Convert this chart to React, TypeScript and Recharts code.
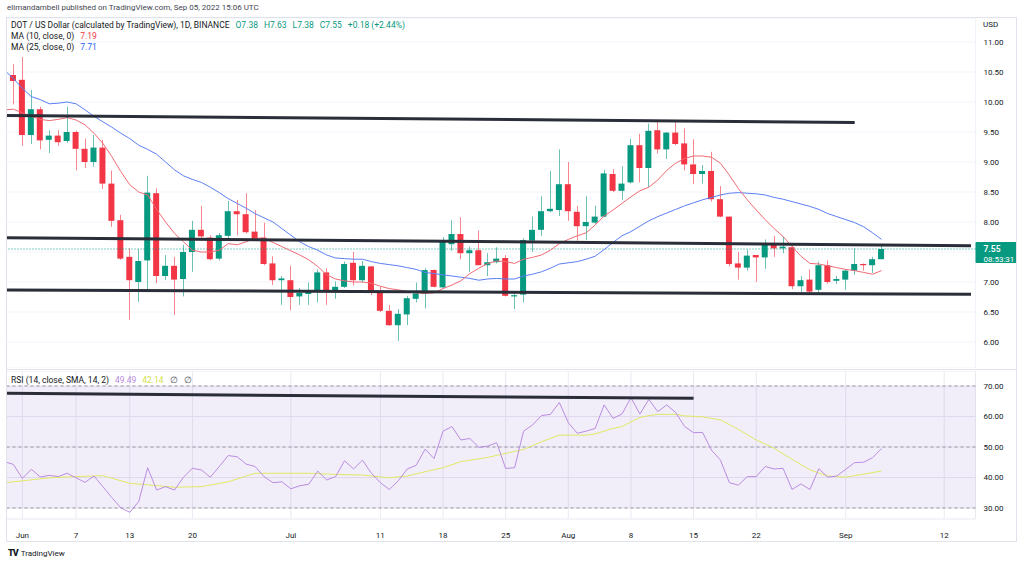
import React from "react";
import {
  ComposedChart,
  Bar,
  Line,
  XAxis,
  YAxis,
  CartesianGrid,
  ReferenceLine,
  ReferenceArea,
} from "recharts";

// ---------- categories ----------
const START_DAY = Date.UTC(2022, 4, 30); // May 30 2022
const DAY_COUNT = 109; // through Sep 15 (empty space on the right)
const dates: string[] = Array.from({ length: DAY_COUNT }, (_, i) =>
  new Date(START_DAY + i * 86400000).toISOString().slice(0, 10)
);

// ---------- OHLC (May 30 .. Sep 5) ----------
const opens = [
  9.98, 10.45, 10.37, 9.45, 9.88, 9.37, 9.44, 9.35, 9.5, 9.22,
  9.0, 9.24, 8.64, 8.03, 7.42, 7.0, 7.36, 8.48, 7.1, 7.27,
  7.05, 7.5, 7.87, 7.74, 7.39, 7.77, 8.18, 8.13, 7.84, 7.74,
  7.31, 7.03, 7.03, 6.76, 6.8, 6.84, 7.16, 6.84, 6.92, 7.32,
  7.03, 7.26, 6.84, 6.52, 6.28, 6.46, 6.72, 6.8, 7.2, 6.91,
  7.63, 7.8, 7.48, 7.53, 7.28, 7.33, 7.4, 6.76, 6.79, 7.69,
  7.87, 8.18, 8.2, 8.63, 8.17, 7.93, 7.99, 8.09, 8.8, 8.52,
  8.66, 9.28, 8.9, 9.53, 9.21, 9.49, 9.31, 8.96, 8.8, 8.85,
  8.38, 8.09, 7.31, 7.24, 7.45, 7.41, 7.65, 7.56, 7.58, 6.93,
  7.04, 6.87, 7.28, 7.02, 7.04, 7.19, 7.3, 7.28, 7.38,
];
const highs = [
  10.55, 10.63, 10.75, 10.2, 9.92, 9.53, 9.53, 9.92, 9.52, 9.39,
  9.45, 9.37, 8.86, 8.12, 7.56, 7.55, 8.77, 8.56, 7.45, 7.42,
  7.62, 8.02, 8.27, 7.78, 7.82, 8.35, 8.37, 8.48, 8.2, 7.99,
  7.43, 7.1, 7.27, 6.9, 6.99, 7.21, 7.23, 7.01, 7.34, 7.5,
  7.35, 7.27, 6.92, 6.62, 6.55, 6.77, 6.99, 7.23, 7.21, 7.75,
  8.03, 8.08, 7.59, 7.86, 7.48, 7.58, 7.45, 6.81, 7.73, 8.09,
  8.43, 8.85, 9.21, 9.0, 8.27, 8.43, 8.27, 8.87, 8.88, 8.93,
  9.39, 9.47, 9.64, 9.68, 9.5, 9.67, 9.56, 9.38, 8.95, 9.17,
  8.6, 8.09, 7.5, 7.54, 7.45, 7.71, 7.77, 7.76, 7.65, 7.1,
  7.21, 7.34, 7.36, 7.1, 7.21, 7.56, 7.31, 7.42, 7.63,
];
const lows = [
  9.95, 9.96, 9.27, 9.3, 9.21, 9.15, 9.27, 9.32, 8.86, 8.9,
  8.92, 8.55, 7.92, 7.37, 6.37, 6.67, 6.84, 6.98, 7.03, 6.45,
  6.76, 7.17, 7.69, 7.36, 7.36, 7.73, 7.78, 7.81, 7.7, 7.28,
  6.95, 6.62, 6.53, 6.62, 6.62, 6.66, 6.62, 6.72, 6.9, 6.94,
  6.99, 6.78, 6.5, 6.27, 6.02, 6.28, 6.66, 6.56, 6.91, 6.89,
  7.52, 7.38, 7.17, 7.28, 7.1, 7.31, 6.76, 6.55, 6.66, 7.5,
  7.77, 8.16, 8.1, 8.02, 7.69, 7.7, 7.97, 8.08, 8.5, 8.37,
  8.64, 8.66, 8.58, 9.14, 9.05, 9.28, 8.86, 8.63, 8.64, 8.34,
  8.08, 7.26, 7.04, 7.19, 7.0, 7.22, 7.42, 7.48, 6.88, 6.82,
  6.82, 6.82, 6.97, 6.97, 6.87, 7.12, 7.19, 7.15, 7.38,
];
const closes = [
  10.47, 10.35, 9.45, 9.88, 9.36, 9.44, 9.33, 9.5, 9.22, 9.0,
  9.24, 8.64, 8.02, 7.39, 7.03, 7.35, 8.49, 7.1, 7.27, 7.04,
  7.5, 7.87, 7.76, 7.38, 7.78, 8.18, 8.13, 7.83, 7.71, 7.3,
  7.03, 7.06, 6.75, 6.82, 6.84, 7.16, 6.84, 6.92, 7.3, 7.03,
  7.27, 6.84, 6.52, 6.28, 6.47, 6.73, 6.81, 7.2, 6.92, 7.67,
  7.8, 7.48, 7.53, 7.28, 7.33, 7.39, 6.77, 6.78, 7.7, 7.87,
  8.18, 8.22, 8.63, 8.18, 7.93, 8.0, 8.09, 8.81, 8.52, 8.64,
  9.28, 8.9, 9.52, 9.21, 9.49, 9.3, 8.96, 8.8, 8.85, 8.38,
  8.09, 7.3, 7.24, 7.44, 7.41, 7.65, 7.56, 7.59, 6.93, 7.03,
  6.84, 7.28, 7.0, 7.05, 7.19, 7.3, 7.28, 7.38, 7.55,
];

// ---------- moving averages ----------
const ma10 = [
  9.87, 9.88, 9.82, 9.76, 9.71, 9.69, 9.71, 9.74, 9.7, 9.62,
  9.48, 9.31, 9.09, 8.84, 8.62, 8.5, 8.45, 8.21, 8.0, 7.81,
  7.67, 7.53, 7.5, 7.5, 7.53, 7.64, 7.62, 7.67, 7.73, 7.73,
  7.66, 7.59, 7.52, 7.45, 7.37, 7.26, 7.12, 7.05, 7.02, 7.0,
  7.0, 6.98, 6.93, 6.89, 6.87, 6.84, 6.82, 6.81, 6.82, 6.89,
  6.95, 7.02, 7.14, 7.23, 7.31, 7.35, 7.34, 7.31, 7.38, 7.41,
  7.45, 7.53, 7.64, 7.71, 7.77, 7.82, 7.95, 8.1, 8.2, 8.31,
  8.42, 8.52, 8.58, 8.7, 8.86, 8.98, 9.06, 9.1, 9.1, 9.08,
  8.98, 8.78, 8.56, 8.37, 8.2, 8.04, 7.89, 7.76, 7.59, 7.43,
  7.31, 7.3, 7.27, 7.24, 7.21, 7.19, 7.16, 7.13, 7.19,
];
const ma25 = [
  10.53, 10.39, 10.23, 10.09, 10.04, 9.97, 9.98, 10.0, 9.97, 9.87,
  9.76, 9.67, 9.58, 9.48, 9.39, 9.28, 9.21, 9.13, 9.0, 8.87,
  8.77, 8.71, 8.66, 8.58, 8.49, 8.39, 8.31, 8.23, 8.14, 8.07,
  8.0, 7.89, 7.78, 7.67, 7.59, 7.53, 7.45, 7.4, 7.39, 7.38,
  7.38, 7.34, 7.31, 7.29, 7.27, 7.24, 7.21, 7.16, 7.14, 7.12,
  7.1, 7.08, 7.06, 7.03, 7.05, 7.06, 7.05, 7.05, 7.1, 7.13,
  7.17, 7.23, 7.3, 7.32, 7.34, 7.38, 7.43, 7.54, 7.66, 7.77,
  7.84, 7.93, 8.02, 8.09, 8.15, 8.21, 8.27, 8.32, 8.37, 8.41,
  8.45, 8.48, 8.49, 8.48, 8.47, 8.45, 8.41, 8.38, 8.34, 8.3,
  8.26, 8.21, 8.14, 8.09, 8.04, 7.99, 7.92, 7.82, 7.71,
];

// ---------- RSI ----------
const rsi = [
  45.2, 44.3, 39.7, 42.7, 40.2, 40.7, 40.3, 41.4, 39.9, 38.4,
  40.5, 37.0, 33.4, 30.1, 28.6, 32.1, 43.2, 35.9, 37.0, 35.9,
  40.1, 43.0, 42.5, 40.1, 43.6, 47.2, 46.8, 44.4, 43.6, 40.3,
  38.3, 38.6, 36.3, 37.3, 37.8, 42.1, 39.2, 40.3, 45.5, 42.8,
  45.7, 41.4, 38.3, 36.1, 38.9, 42.8, 44.0, 49.3, 46.2, 55.2,
  56.7, 52.3, 52.8, 49.9, 50.3, 51.4, 43.0, 43.2, 55.2, 57.2,
  60.3, 60.7, 64.6, 58.0, 54.5, 55.2, 56.1, 63.8, 59.4, 60.8,
  66.2, 60.8, 65.6, 61.6, 63.8, 61.3, 56.7, 54.7, 54.8, 49.0,
  45.7, 38.3, 37.5, 40.3, 40.3, 43.6, 42.8, 43.0, 36.1, 37.9,
  36.1, 42.9, 40.1, 40.5, 42.7, 44.9, 45.0, 46.5, 49.49,
];
const rsiMa: (number | null)[] = [
  38.3, null, 38.9, null, null, 39.9, null, null, 40.3, null,
  null, 40.6, null, null, 38.1, null, 37.6, null, null, 36.8,
  null, null, 37.0, null, null, 38.6, null, null, 41.4, null,
  null, 41.4, null, null, 41.4, null, null, 41.0, null, null,
  40.8, null, null, 39.9, null, 40.5, null, 41.9, null, 43.2,
  null, 45.2, null, null, 46.6, null, 47.9, null, 49.2, null,
  51.7, null, 53.9, 53.9, null, 53.9, 54.3, null, 56.1, 56.7,
  null, 59.7, 60.3, 60.7, null, 60.7, 60.2, null, 59.9, null,
  58.9, null, 55.8, null, 52.3, null, 49.6, null, 46.0, null,
  42.5, null, 40.5, null, 40.1, null, 41.1, null, 42.14,
];

// ---------- ticks ----------
const tickDates = [
  "2022-06-01", "2022-06-07", "2022-06-13", "2022-06-20", "2022-07-01",
  "2022-07-11", "2022-07-18", "2022-07-25", "2022-08-01", "2022-08-08",
  "2022-08-15", "2022-08-22", "2022-09-01", "2022-09-12",
];
const tickLabels = ["Jun", "7", "13", "20", "Jul", "11", "18", "25", "Aug", "8", "15", "22", "Sep", "12"];
const priceTicks = [6, 6.5, 7, 7.5, 8, 8.5, 9, 9.5, 10, 10.5, 11];
const rsiTicks = [30, 40, 50, 60, 70];

// ---------- drawn trend lines (date, value) ----------
const priceTrendLines = [
  { x1: "2022-05-30", y1: 9.775, x2: "2022-09-02", y2: 9.66 },
  { x1: "2022-05-30", y1: 7.74, x2: "2022-09-15", y2: 7.605 },
  { x1: "2022-05-30", y1: 6.867, x2: "2022-09-15", y2: 6.795 },
];
const rsiTrendLine = { x1: "2022-05-30", y1: 67.6, x2: "2022-08-15", y2: 65.97 };

const lastClose = closes[closes.length - 1];
const countdown = "08:53:31";

const data = dates.map((d, i) => ({
  date: d,
  open: opens[i] ?? null,
  high: highs[i] ?? null,
  low: lows[i] ?? null,
  close: closes[i] ?? null,
  ma10: ma10[i] ?? null,
  ma25: ma25[i] ?? null,
  rsi: rsi[i] ?? null,
  rsiMa: i < rsiMa.length ? rsiMa[i] : null,
}));

const GREEN = "#089981";
const RED = "#F23645";
const FONT = "Roboto, 'Noto Sans', sans-serif";
const AXIS_TEXT = "#131722";
const TREND = "#2a2e39";

const labelOf = (v: string) => {
  const k = tickDates.indexOf(v);
  return k >= 0 ? tickLabels[k] : "";
};

const Candle = (props: any) => {
  const { x, y, width, height, payload } = props;
  if (!payload || payload.open == null || payload.high == null) return null;
  const { open, close, high, low } = payload;
  const top = Math.min(y, y + height);
  const h = Math.abs(height);
  const yOf = (v: number) => (high === low ? top : top + ((high - v) / (high - low)) * h);
  const up = close >= open;
  const color = up ? GREEN : RED;
  const cx = Math.round(x + width / 2) + 0.5;
  const bTop = yOf(Math.max(open, close));
  const bBot = yOf(Math.min(open, close));
  return (
    <g>
      <line x1={cx} x2={cx} y1={top} y2={top + h} stroke={color} strokeOpacity={0.6} strokeWidth={1} />
      <rect x={x} y={bTop} width={width} height={Math.max(1, bBot - bTop)} fill={color} />
    </g>
  );
};

const PriceBox = (props: any) => {
  const vb = props.viewBox || {};
  const x = (vb.x ?? 0) + (vb.width ?? 0);
  const y = vb.y ?? 0;
  return (
    <g>
      <rect x={x} y={y - 7} width={41} height={21} fill={GREEN} rx={1} />
      <text x={x + 8} y={y} dy="0.35em" fill="#fff" fontSize={8.5} fontWeight={600} fontFamily={FONT}>
        {lastClose.toFixed(2)}
      </text>
      <text x={x + 8} y={y + 10} dy="0.35em" fill="#fff" fontSize={8} fontFamily={FONT}>
        {countdown}
      </text>
    </g>
  );
};

function MainChart() {
  return (
    <ComposedChart width={1024} height={350} data={data} margin={{ top: 0, right: 0, bottom: 0, left: 0 }}>
      <CartesianGrid stroke="#f0f3fa" />
      <XAxis
        dataKey="date"
        scale="band"
        ticks={tickDates}
        interval={0}
        height={0}
        tick={false}
        axisLine={false}
        tickLine={false}
      />
      <YAxis
        orientation="right"
        width={48.5}
        domain={[5.567, 11.4]}
        allowDataOverflow
        ticks={priceTicks}
        interval={0}
        tickFormatter={(v: number) => (v === 7.5 ? "" : v.toFixed(2))}
        axisLine={false}
        tickLine={false}
        tick={{ fontSize: 8, fill: AXIS_TEXT, fontFamily: FONT }}
      />
      <ReferenceLine y={lastClose} stroke={GREEN} strokeDasharray="1 2" strokeWidth={1} label={(p: any) => <PriceBox {...p} />} />
      <Bar
        dataKey={(d: any) => (d.low == null ? null : [d.low, d.high])}
        barSize={6}
        shape={(p: any) => <Candle {...p} />}
        isAnimationActive={false}
      />
      <Line type="linear" dataKey="ma25" stroke="#5b7ff5" strokeWidth={1} dot={false} activeDot={false} isAnimationActive={false} />
      <Line type="linear" dataKey="ma10" stroke="#f06a74" strokeWidth={1} dot={false} activeDot={false} isAnimationActive={false} />
      {priceTrendLines.map((t, i) => (
        <ReferenceLine
          key={i}
          segment={[{ x: t.x1, y: t.y1 }, { x: t.x2, y: t.y2 }]}
          stroke={TREND}
          strokeWidth={3}
          ifOverflow="visible"
        />
      ))}
    </ComposedChart>
  );
}

function RsiChart() {
  return (
    <ComposedChart width={1024} height={171} data={data} margin={{ top: 0, right: 0, bottom: 0, left: 0 }}>
      <ReferenceArea y1={30} y2={70} fill="#7e57c2" fillOpacity={0.1} stroke="none" />
      <CartesianGrid stroke="#ebe8f2" />
      <XAxis
        dataKey="date"
        scale="band"
        ticks={tickDates}
        interval={0}
        height={23}
        tickFormatter={labelOf}
        axisLine={false}
        tickLine={false}
        tickMargin={7}
        tick={{ fontSize: 8, fill: AXIS_TEXT, fontFamily: FONT }}
      />
      <YAxis
        orientation="right"
        width={48.5}
        domain={[26.4, 74.92]}
        allowDataOverflow
        ticks={rsiTicks}
        interval={0}
        tickFormatter={(v: number) => v.toFixed(2)}
        axisLine={false}
        tickLine={false}
        tick={{ fontSize: 8, fill: AXIS_TEXT, fontFamily: FONT }}
      />
      <ReferenceLine y={70} stroke="#9598a1" strokeDasharray="3 3" />
      <ReferenceLine y={50} stroke="#9598a1" strokeDasharray="3 3" />
      <ReferenceLine y={30} stroke="#9598a1" strokeDasharray="3 3" />
      <Line type="linear" dataKey="rsiMa" stroke="#dfe865" strokeWidth={1} dot={false} activeDot={false} connectNulls isAnimationActive={false} />
      <Line type="linear" dataKey="rsi" stroke="#b98ce0" strokeWidth={1} dot={false} activeDot={false} isAnimationActive={false} />
      <ReferenceLine
        segment={[{ x: rsiTrendLine.x1, y: rsiTrendLine.y1 }, { x: rsiTrendLine.x2, y: rsiTrendLine.y2 }]}
        stroke={TREND}
        strokeWidth={3}
        ifOverflow="visible"
      />
    </ComposedChart>
  );
}

const legendRow: React.CSSProperties = {
  position: "absolute",
  left: 11,
  fontSize: 8.5,
  lineHeight: "10px",
  whiteSpace: "nowrap",
  color: "#131722",
};

export default function App() {
  return (
    <div
      style={{
        position: "absolute",
        left: 0,
        top: 0,
        width: 1024,
        height: 565,
        background: "#fff",
        overflow: "hidden",
        fontFamily: FONT,
        color: "#131722",
      }}
    >
      <div style={{ position: "absolute", left: 7, top: 3, fontSize: 8, lineHeight: "10px", color: "#434651", whiteSpace: "nowrap" }}>
        elimandambell published on TradingView.com, Sep 05, 2022 15:06 UTC
      </div>

      <div
        style={{
          position: "absolute",
          left: 6,
          top: 17,
          width: 1011,
          height: 525,
          border: "1px solid #e0e3eb",
          boxSizing: "border-box",
          overflow: "hidden",
        }}
      >
        <div style={{ position: "absolute", left: -7, top: 0 }}>
          <MainChart />
        </div>
        <div style={{ position: "absolute", left: 0, top: 351, width: 1011, height: 1, background: "#e0e3eb" }} />
        <div style={{ position: "absolute", left: -7, top: 353 }}>
          <RsiChart />
        </div>
      </div>

      <div style={{ ...legendRow, top: 20 }}>
        DOT / US Dollar (calculated by TradingView), 1D, BINANCE
        <span style={{ color: GREEN, marginLeft: 6 }}>O7.38</span>
        <span style={{ color: GREEN, marginLeft: 6 }}>H7.63</span>
        <span style={{ color: GREEN, marginLeft: 6 }}>L7.38</span>
        <span style={{ color: GREEN, marginLeft: 6 }}>C7.55</span>
        <span style={{ color: GREEN, marginLeft: 6 }}>+0.18 (+2.44%)</span>
      </div>
      <div style={{ ...legendRow, top: 31 }}>
        MA (10, close, 0)<span style={{ color: RED, marginLeft: 6 }}>7.19</span>
      </div>
      <div style={{ ...legendRow, top: 42 }}>
        MA (25, close, 0)<span style={{ color: "#2962FF", marginLeft: 6 }}>7.71</span>
      </div>
      <div style={{ position: "absolute", left: 983, top: 20, fontSize: 8, lineHeight: "10px", color: "#131722" }}>USD</div>

      <div style={{ ...legendRow, top: 375 }}>
        RSI (14, close, SMA, 14, 2)
        <span style={{ color: "#b98ce0", marginLeft: 6 }}>49.49</span>
        <span style={{ color: "#d4df4a", marginLeft: 6 }}>42.14</span>
        <span style={{ color: "#50535e", marginLeft: 6 }}>∅</span>
        <span style={{ color: "#50535e", marginLeft: 6 }}>∅</span>
      </div>

      <div style={{ position: "absolute", left: 8, top: 548, fontSize: 8, lineHeight: "10px", whiteSpace: "nowrap", color: "#131722" }}>
        <span style={{ fontWeight: 900, fontSize: 9, letterSpacing: -1, marginRight: 3 }}>TV</span>
        TradingView
      </div>
    </div>
  );
}
